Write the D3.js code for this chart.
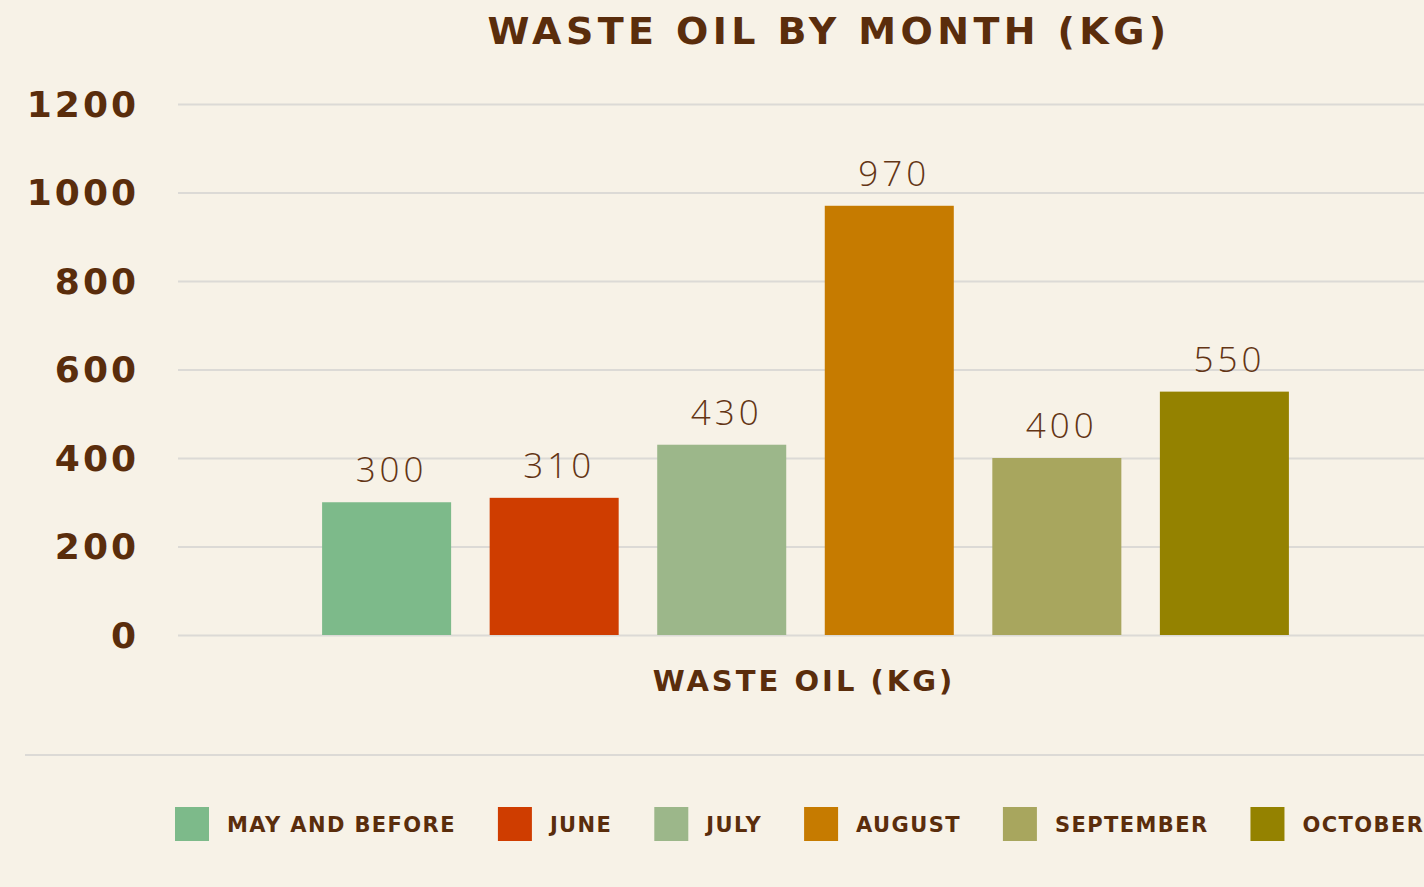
<!DOCTYPE html>
<html>
<head>
<meta charset="utf-8">
<script src="https://cdn.jsdelivr.net/npm/d3@7"></script>
<style>
  html, body { margin: 0; padding: 0; background: #f7f2e7; overflow: hidden; }
  text { fill: #5a2d0c; font-family: "DejaVu Sans", Verdana, sans-serif; }
  .grid line { stroke: #dcdad6; stroke-width: 2; }
  .grid path { display: none; }
</style>
</head>
<body>
<div id="barchart"></div>
<script>
// data
var months = ["MAY AND BEFORE", "JUNE", "JULY", "AUGUST", "SEPTEMBER", "OCTOBER"];
var values = [300, 310, 430, 970, 400, 550];
var colors = ["#7dba8a", "#cf3d00", "#9cb78a", "#c67b00", "#a8a65e", "#948200"];
var yTicks = [0, 200, 400, 600, 800, 1000, 1200];

var width = 1424, height = 887;
var plot = {left: 178, right: 1433, top: 104, bottom: 635};

var svg = d3.select("#barchart").append("svg")
    .attr("width", width)
    .attr("height", height);

var x = d3.scaleBand()
    .domain(months)
    .range([plot.left, plot.right])
    .paddingInner(0.23)
    .paddingOuter(0.86);

var y = d3.scaleLinear()
    .domain([0, 1200])
    .range([plot.bottom, plot.top]);

// gridlines
svg.append("g")
    .attr("class", "grid")
    .attr("transform", "translate(" + plot.left + ",0)")
    .call(d3.axisLeft(y).tickValues(yTicks).tickSize(-(width - plot.left)).tickFormat(""));

// y tick labels
svg.selectAll(".ytick")
    .data(yTicks)
    .enter()
    .append("text")
    .attr("class", "ytick")
    .attr("x", 139)
    .attr("y", function(d) { return y(d); })
    .attr("dy", "0.36em")
    .style("text-anchor", "end")
    .style("font-size", "36px")
    .style("font-weight", "bold")
    .style("letter-spacing", "3px")
    .text(function(d) { return d; });

// title
svg.append("text")
    .attr("x", 829)
    .attr("y", 44)
    .style("text-anchor", "middle")
    .style("font-size", "38px")
    .style("font-weight", "bold")
    .style("letter-spacing", "4.4px")
    .text("WASTE OIL BY MONTH (KG)");

// bars
var data = months.map(function(m, i) { return {month: m, value: values[i], color: colors[i]}; });

svg.selectAll(".bar")
    .data(data)
    .enter()
    .append("rect")
    .attr("class", "bar")
    .style("fill", function(d) { return d.color; })
    .attr("x", function(d) { return x(d.month); })
    .attr("width", x.bandwidth())
    .attr("y", function(d) { return y(d.value); })
    .attr("height", function(d) { return y(0) - y(d.value); });

svg.selectAll(".vlabel")
    .data(data)
    .enter()
    .append("text")
    .attr("class", "vlabel")
    .attr("x", function(d) { return x(d.month) + x.bandwidth() / 2 + 5; })
    .attr("y", function(d) { return y(d.value) - 20; })
    .style("text-anchor", "middle")
    .style("fill", "#633515")
    .style("font-family", "'Open Sans', sans-serif")
    .style("font-weight", "300")
    .style("font-size", "35px")
    .style("letter-spacing", "4px")
    .text(function(d) { return d.value; });

// x axis title
svg.append("text")
    .attr("x", 804)
    .attr("y", 691)
    .style("text-anchor", "middle")
    .style("font-size", "29px")
    .style("font-weight", "bold")
    .style("letter-spacing", "3px")
    .text("WASTE OIL (KG)");

// legend separator
svg.append("line")
    .attr("x1", 25).attr("x2", width)
    .attr("y1", 755).attr("y2", 755)
    .style("stroke", "#dcdad6")
    .style("stroke-width", 2);

// legend
var lx = 175;
data.forEach(function(d) {
  var g = svg.append("g").attr("transform", "translate(" + lx + ",807)");
  g.append("rect")
      .attr("width", 34)
      .attr("height", 34)
      .style("fill", d.color);
  var t = g.append("text")
      .attr("x", 52)
      .attr("y", 17)
      .attr("dy", "0.36em")
      .style("font-size", "21px")
      .style("font-weight", "bold")
      .style("letter-spacing", "1.4px")
      .text(d.month);
  lx += 52 + t.node().getComputedTextLength() + 42;
});
</script>
</body>
</html>
